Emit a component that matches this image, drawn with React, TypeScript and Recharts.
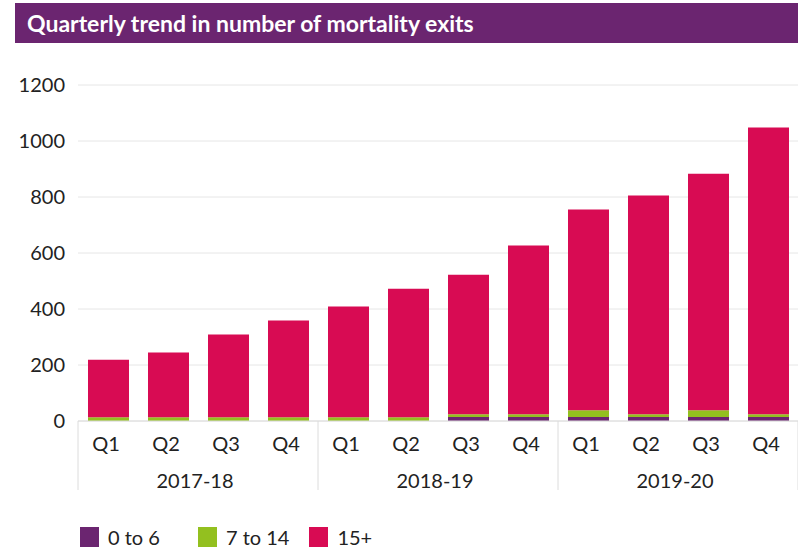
import React from 'react';
import { BarChart, Bar, XAxis, YAxis, CartesianGrid, Legend } from 'recharts';

const quarters = ['Q1', 'Q2', 'Q3', 'Q4', 'Q1', 'Q2', 'Q3', 'Q4', 'Q1', 'Q2', 'Q3', 'Q4'];
const years = ['2017-18', '2017-18', '2017-18', '2017-18', '2018-19', '2018-19', '2018-19', '2018-19', '2019-20', '2019-20', '2019-20', '2019-20'];
const age0to6 = [0, 0, 0, 0, 0, 0, 14, 14, 14, 14, 14, 14];
const age7to14 = [13, 13, 13, 13, 13, 13, 10, 10, 24, 10, 24, 10];
const age15plus = [206, 232, 296, 346, 396, 459, 498, 603, 717, 781, 845, 1024];
const yTicks = [0, 200, 400, 600, 800, 1000, 1200];

const seriesNames = ['0 to 6', '7 to 14', '15+'];
const colors = ['#6B2570', '#93C01F', '#D80B53'];

const data = quarters.map((q, i) => ({
  q,
  year: years[i],
  a: age0to6[i],
  b: age7to14[i],
  c: age15plus[i],
}));

const FONT = 'Lato, "Noto Sans", sans-serif';
const TEXT = '#222222';
const LINE = '#dcdcdc';

const QTick = (props: any) => {
  const { x, y, index, payload, width, visibleTicksCount } = props;
  const band = width / visibleTicksCount;
  const els: any[] = [];
  els.push(
    <text key="q" x={x - 2} y={y + 30} textAnchor="middle" fontSize={20} fill={TEXT} fontFamily={FONT}>
      {payload.value}
    </text>
  );
  const isGroupStart = index === 0 || years[index] !== years[index - 1];
  if (isGroupStart) {
    els.push(<line key="s" x1={x - band / 2} x2={x - band / 2} y1={y} y2={y + 69} stroke={LINE} strokeWidth={1} />);
  }
  if (index === data.length - 1) {
    els.push(<line key="e" x1={x + band / 2} x2={x + band / 2} y1={y} y2={y + 69} stroke={LINE} strokeWidth={1} />);
  }
  const next = years[index + 1];
  const prev = years[index - 1];
  if (index > 0 && years[index] === prev && next === years[index] && years[index - 1] !== years[index - 2]) {
    els.push(
      <text key="y" x={x + band / 2 - 3} y={y + 67} textAnchor="middle" fontSize={20} fill={TEXT} fontFamily={FONT}>
        {years[index]}
      </text>
    );
  }
  return <g>{els}</g>;
};

const LegendContent = () => (
  <div style={{ display: 'flex', alignItems: 'center', height: 30, fontFamily: FONT, fontSize: 20, lineHeight: '30px', color: TEXT }}>
    {seriesNames.map((n, i) => (
      <div key={n} style={{ display: 'flex', alignItems: 'center', marginRight: i === 0 ? 38 : 20 }}>
        <span style={{ display: 'inline-block', width: 19, height: 20, background: colors[i], marginRight: 9 }} />
        <span style={{ whiteSpace: 'nowrap' }}>{n}</span>
      </div>
    ))}
  </div>
);

export default function App() {
  return (
    <div style={{ position: 'absolute', left: 0, top: 0, width: 798, height: 548, background: '#fff' }}>
      <div
        style={{
          position: 'absolute',
          left: 15,
          top: 3,
          width: 783,
          height: 40,
          background: '#6B2570',
          color: '#fff',
          fontFamily: FONT,
          fontWeight: 700,
          fontSize: 23,
          lineHeight: '40px',
          paddingLeft: 12,
          boxSizing: 'border-box',
        }}
      >
        Quarterly trend in number of mortality exits
      </div>
      <BarChart width={798} height={548} data={data} margin={{ top: 85, right: 0, left: 0, bottom: 47 }}>
        <CartesianGrid vertical={false} stroke="#e6e6e6" />
        <YAxis
          domain={[0, 1200]}
          ticks={yTicks}
          width={78}
          axisLine={false}
          tickLine={false}
          tickSize={0}
          tickMargin={13}
          tick={{ fontSize: 20, fill: TEXT, fontFamily: FONT }}
        />
        <XAxis
          dataKey="q"
          height={80}
          interval={0}
          axisLine={{ stroke: LINE }}
          tickLine={false}
          tickSize={0}
          tickMargin={0}
          tick={<QTick />}
        />
        <Legend
          layout="horizontal"
          verticalAlign="middle"
          align="center"
          wrapperStyle={{ top: 522, left: 80, width: 420, height: 30, overflow: 'visible' }}
          content={<LegendContent />}
        />
        <Bar dataKey="a" name={seriesNames[0]} stackId="s" fill={colors[0]} barSize={41} isAnimationActive={false} />
        <Bar dataKey="b" name={seriesNames[1]} stackId="s" fill={colors[1]} barSize={41} isAnimationActive={false} />
        <Bar dataKey="c" name={seriesNames[2]} stackId="s" fill={colors[2]} barSize={41} isAnimationActive={false} />
      </BarChart>
    </div>
  );
}
